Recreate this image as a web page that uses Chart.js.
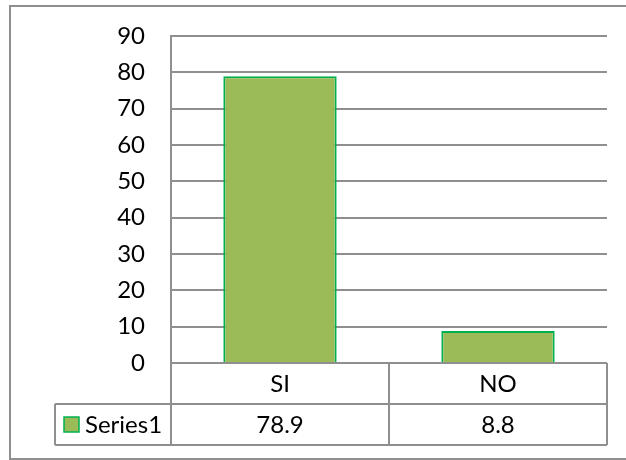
<!DOCTYPE html>
<html>
<head>
<meta charset="utf-8">
<script src="https://cdn.jsdelivr.net/npm/chart.js@4/dist/chart.umd.min.js"></script>
<style>
  html, body { margin: 0; padding: 0; background: #fff; }
  #wrap { width: 626px; height: 460px; }
</style>
</head>
<body>
<div id="wrap"><canvas id="chart" width="626" height="460"></canvas></div>
<script>
'use strict';

const categories = ['SI', 'NO'];
const seriesName = 'Series1';
const series1 = [78.9, 8.8];

const lineGray = '#8f8f8f';
const barFill = '#9bbb59';
const barEdge = '#00b050';
const font = 'Lato';

// data table under the plot, drawn from the x scale positions
const dataTable = {
    id: 'dataTable',
    afterDraw(chart) {
        const ctx = chart.ctx;
        const area = chart.chartArea;
        const x = chart.scales.x;
        const rowH = 41;
        const y0 = area.bottom;
        const y1 = y0 + rowH;
        const y2 = y1 + rowH;
        const labelLeft = 55;
        const step = (area.right - area.left) / categories.length;

        ctx.save();
        // outer frame
        ctx.strokeStyle = lineGray;
        ctx.lineWidth = 2;
        ctx.strokeRect(10, 6, 640, 453);

        ctx.beginPath();
        ctx.moveTo(area.left, y0); ctx.lineTo(area.right, y0);
        ctx.moveTo(labelLeft, y1); ctx.lineTo(area.right, y1);
        ctx.moveTo(labelLeft, y2); ctx.lineTo(area.right, y2);
        for (let i = 0; i <= categories.length; i++) {
            const bx = area.left + step * i;
            ctx.moveTo(bx, y0); ctx.lineTo(bx, y2);
        }
        ctx.moveTo(labelLeft, y1); ctx.lineTo(labelLeft, y2);
        ctx.stroke();

        ctx.fillStyle = '#000';
        ctx.font = '24px ' + font;
        ctx.textAlign = 'center';
        ctx.textBaseline = 'middle';
        categories.forEach((c, i) => {
            const cx = x.getPixelForValue(i);
            ctx.fillText(c, cx, y0 + rowH / 2 + 1);
            ctx.fillText(String(series1[i]), cx, y1 + rowH / 2 + 1);
        });

        // legend key + series name
        ctx.fillStyle = barFill;
        ctx.fillRect(64, y1 + 13, 15, 15);
        ctx.strokeStyle = barEdge;
        ctx.lineWidth = 1.5;
        ctx.strokeRect(64, y1 + 13, 15, 15);
        ctx.fillStyle = '#000';
        ctx.textAlign = 'left';
        ctx.fillText(seriesName, 85, y1 + rowH / 2 + 1);
        ctx.restore();
    }
};

new Chart(document.getElementById('chart'), {
    type: 'bar',
    data: {
        labels: categories,
        datasets: [{
            label: seriesName,
            data: series1,
            backgroundColor: barFill,
            borderColor: barEdge,
            borderWidth: 2,
            categoryPercentage: 1,
            barPercentage: 0.52
        }]
    },
    options: {
        responsive: false,
        animation: false,
        layout: { padding: { top: 36, bottom: 97, right: 19, left: 0 } },
        plugins: {
            legend: { display: false },
            tooltip: { enabled: false }
        },
        scales: {
            x: { display: false },
            y: {
                min: 0,
                max: 90,
                ticks: {
                    stepSize: 10,
                    padding: 26,
                    color: '#000',
                    font: { family: font, size: 24 }
                },
                grid: { color: lineGray, lineWidth: 2, drawTicks: false },
                border: { display: true, color: lineGray, width: 2 },
                afterFit(scale) {
                    scale.width = 171;
                    // tick padding otherwise pushes the plot top down
                    scale.paddingTop = 0;
                    scale.paddingBottom = 0;
                }
            }
        }
    },
    plugins: [dataTable]
});
</script>
</body>
</html>
